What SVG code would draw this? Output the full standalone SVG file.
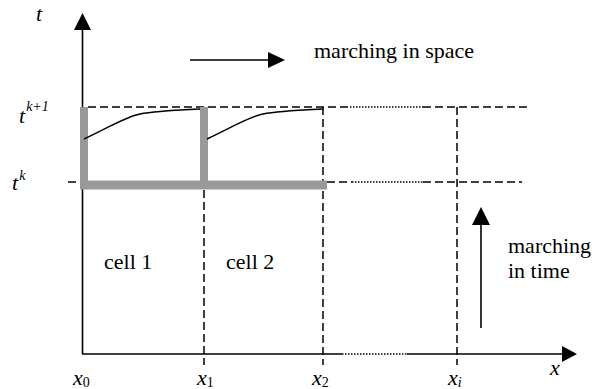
<svg xmlns="http://www.w3.org/2000/svg" width="592" height="389" viewBox="0 0 592 389">
<style>
.t{font-family:"Liberation Serif","Times New Roman",serif;font-size:22px;fill:#000}
.i{font-style:italic}
.s{font-size:14px}
.dash{stroke:#000;stroke-width:1.5;stroke-dasharray:8,4;fill:none}
.dot{stroke:#000;stroke-width:1.3;stroke-dasharray:1.5,1.5;fill:none}
.ax{stroke:#000;stroke-width:1.6;fill:none}
.gray{stroke:#999;fill:none}
.cur{stroke:#000;stroke-width:1.4;fill:none}
</style>
<rect width="592" height="389" fill="#fff"/>
<g id="grid">
<line class="dash" x1="88" y1="107" x2="350" y2="107"/>
<line class="dot" x1="350" y1="107" x2="423" y2="107"/>
<line class="dash" x1="423" y1="107" x2="527" y2="107"/>
<line class="dash" x1="68" y1="182" x2="80" y2="182"/>
<line class="dash" x1="327" y1="182" x2="352" y2="182"/>
<line class="dot" x1="352" y1="182" x2="423" y2="182"/>
<line class="dash" x1="423" y1="182" x2="522" y2="182"/>
<line class="dash" x1="204" y1="190" x2="204" y2="365"/>
<line class="dash" x1="323" y1="107" x2="323" y2="365"/>
<line class="dash" x1="457" y1="107" x2="457" y2="365"/>
</g>
<g id="axes">
<line class="ax" x1="82.5" y1="354" x2="82.5" y2="29"/>
<polygon points="82.5,13 74,30 91,30" fill="#000"/>
<line class="ax" x1="82" y1="354" x2="342" y2="354"/>
<line class="dot" x1="342" y1="354" x2="407" y2="354"/>
<line class="ax" x1="407" y1="354" x2="563" y2="354"/>
<polygon points="577,354 562,346 562,362" fill="#000"/>
</g>
<g id="cells">
<line class="gray" x1="84" y1="107" x2="84" y2="189" stroke-width="8"/>
<line class="gray" x1="204" y1="107" x2="204" y2="189" stroke-width="8"/>
<line class="gray" x1="80" y1="185" x2="327" y2="185" stroke-width="9"/>
<path class="cur" d="M84,139 C110,127 125,117 140,114 S180,110 200,109"/>
<path class="cur" d="M207,139 C233,127 248,117 263,114 S303,110 323,109"/>
</g>
<g id="connectors">
<line class="ax" x1="190" y1="60" x2="269" y2="60"/>
<polygon points="285,60 268,52 268,68" fill="#000"/>
<line class="ax" x1="481" y1="328" x2="481" y2="224"/>
<polygon points="481,207 472,225 490,225" fill="#000"/>
</g>
<g id="labels">
<text class="t i" x="36" y="21">t</text>
<text class="t i" x="19" y="123">t<tspan class="s" dx="1" dy="-12">k+1</tspan></text>
<text class="t i" x="12" y="190">t<tspan class="s" dx="1" dy="-10">k</tspan></text>
<text class="t" x="314" y="58">marching in space</text>
<text class="t" x="508" y="253">marching</text>
<text class="t" x="508" y="278">in time</text>
<text class="t" x="104" y="269">cell 1</text>
<text class="t" x="226" y="269">cell 2</text>
<text class="t i" x="73" y="385">x<tspan class="s" font-style="normal" dy="2">0</tspan></text>
<text class="t i" x="197" y="385">x<tspan class="s" font-style="normal" dy="2">1</tspan></text>
<text class="t i" x="312" y="385">x<tspan class="s" font-style="normal" dy="2">2</tspan></text>
<text class="t i" x="448" y="385">x<tspan class="s" dy="2">i</tspan></text>
<text class="t i" x="550" y="375">x</text>
</g>
</svg>
